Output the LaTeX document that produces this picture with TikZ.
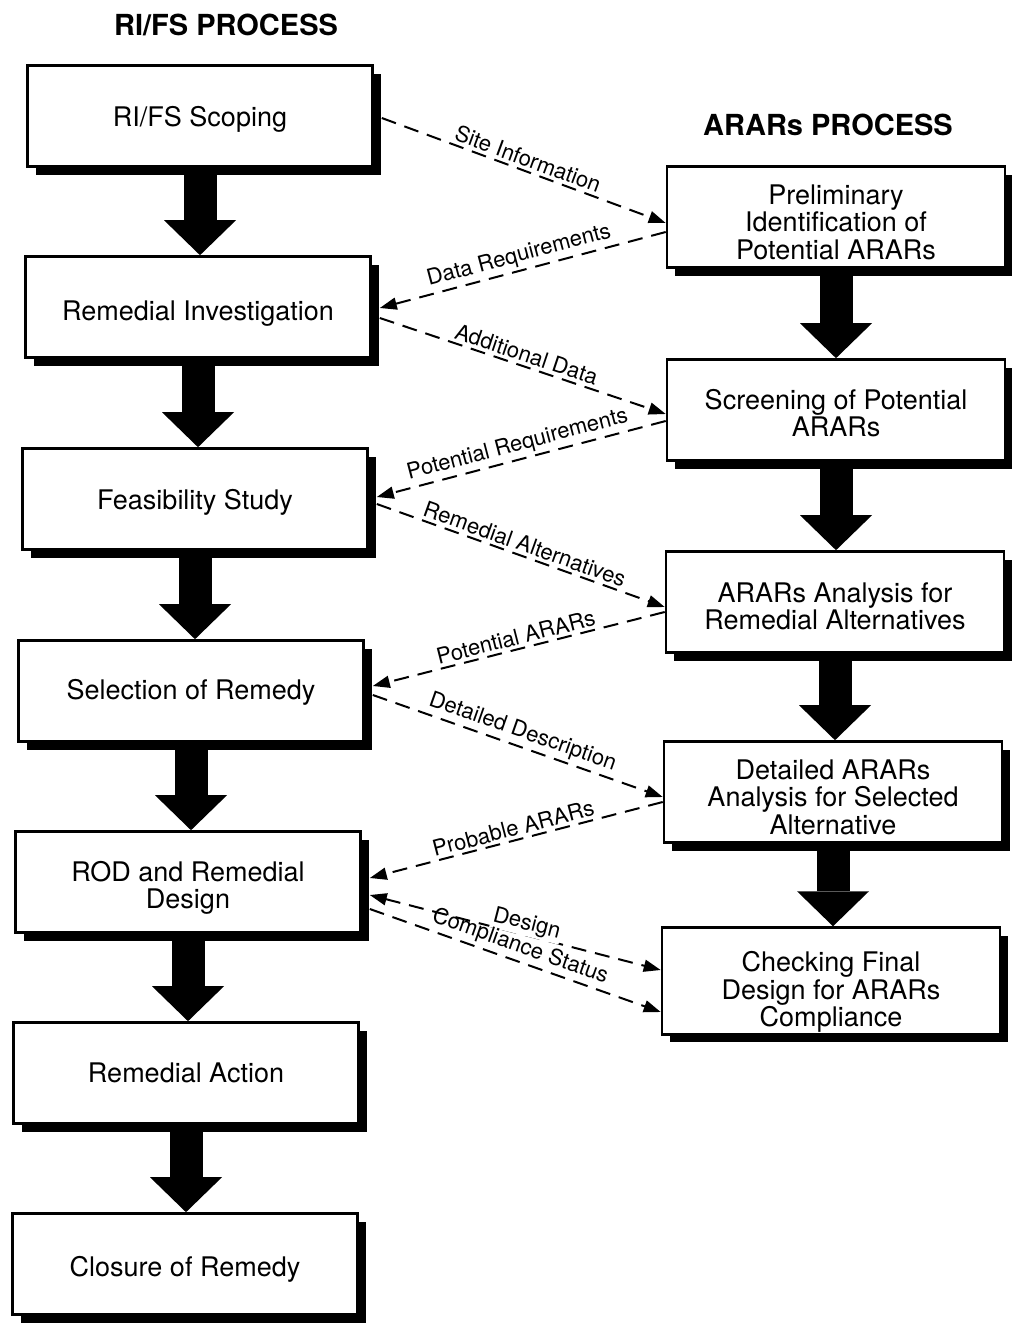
\documentclass[tikz,border=0pt]{standalone}
\usepackage{fontspec}
\setmainfont{TeX Gyre Heros}
\usetikzlibrary{arrows.meta,shadows}

% taller strut on a first line pushes the text block down a little
\newcommand\lowerby[1]{\rule{0pt}{#1pt}}

\begin{document}
\begin{tikzpicture}[x=1pt,y=-1pt,
  >={Triangle[length=17pt,width=12pt]},
  box/.style={draw=black, line width=2.6pt, fill=white,
    minimum width=345pt, minimum height=101pt, inner sep=2pt,
    align=center, font=\fontsize{27}{27.5}\selectfont,
    general shadow={fill=black, shadow xshift=8pt, shadow yshift=-8pt}},
  rbox/.style={box, minimum width=338pt},
  flow/.style={line width=33pt,
    -{Triangle[width=72pt,length=35pt,line width=0pt]}},
  link/.style={line width=2pt, dash pattern=on 15pt off 9pt},
  lbl/.style={font=\fontsize{22}{23}\selectfont, sloped, above, inner sep=3pt},
  head/.style={font=\bfseries\fontsize{29}{31}\selectfont}
]
\useasboundingbox (0,0) rectangle (1012,1328);

% column headings
\node[head] (h1) at (226,25) {RI/FS PROCESS};
\node[head] (h2) at (828,125) {ARARs PROCESS};

% RI/FS process column
\node[box] (L1) at (200,116) {\lowerby{26}RI/FS Scoping};
\node[box] (L2) at (198,307) {\lowerby{32}Remedial Investigation};
\node[box] (L3) at (195,499) {\lowerby{26}Feasibility Study};
\node[box] (L4) at (191,691) {\lowerby{22}Selection of Remedy};
\node[box] (L5) at (188,882) {\lowerby{32}ROD and Remedial\\Design};
\node[box] (L6) at (186,1073) {Remedial Action};
\node[box] (L7) at (185,1264) {\lowerby{30}Closure of Remedy};

% ARARs process column
\node[rbox] (R1) at (836,217) {\lowerby{30}Preliminary\\Identification of\\Potential ARARs};
\node[rbox] (R2) at (836,410) {\lowerby{26}Screening of Potential\\ARARs};
\node[rbox] (R3) at (835,602) {\lowerby{28}ARARs Analysis for\\Remedial Alternatives};
\node[rbox] (R4) at (833,792) {\lowerby{30}Detailed ARARs\\Analysis for Selected\\Alternative};
\node[rbox] (R5) at (831,981) {\lowerby{42}Checking Final\\Design for ARARs\\Compliance};

% heavy flow arrows
\foreach \a/\b in {L1/L2,L2/L3,L3/L4,L4/L5,L5/L6,L6/L7,R1/R2,R2/R3,R3/R4,R4/R5}
  \draw[flow] (\a.south) -- (\a.south |- \b.north);

% information exchanged between the two processes
\draw[link,->] ([shift={(8,2)}]L1.east) -- ([shift={(0,6)}]R1.west)
  node[lbl, midway] {Site Information};
\draw[link,->] ([shift={(0,15)}]R1.west) -- ([shift={(8,1)}]L2.east)
  node[lbl, midway] {Data Requirements};
\draw[link,->] ([shift={(8,11)}]L2.east) -- ([shift={(0,4)}]R2.west)
  node[lbl, midway] {Additional Data};
\draw[link,->] ([shift={(0,11)}]R2.west) -- ([shift={(8,-2)}]L3.east)
  node[lbl, midway] {Potential Requirements};
\draw[link,->] ([shift={(8,5)}]L3.east) -- ([shift={(0,5)}]R3.west)
  node[lbl, midway] {Remedial Alternatives};
\draw[link,->] ([shift={(0,10)}]R3.west) -- ([shift={(8,-5)}]L4.east)
  node[lbl, midway] {Potential ARARs};
\draw[link,->] ([shift={(8,4)}]L4.east) -- ([shift={(0,5)}]R4.west)
  node[lbl, midway] {Detailed Description};
\draw[link,->] ([shift={(0,10)}]R4.west) -- ([shift={(8,-4)}]L5.east)
  node[lbl, midway] {Probable ARARs};
\draw[link,<->] ([shift={(8,13)}]L5.east) -- ([shift={(0,-11)}]R5.west)
  node[pos=0.53, sloped, yshift=11pt, fill=white, inner sep=1.5pt,
       font=\fontsize{22}{23}\selectfont] {Design};
\draw[link,->] ([shift={(8,27)}]L5.east) -- ([shift={(0,31)}]R5.west)
  node[lbl, midway] {Compliance Status};
\end{tikzpicture}
\end{document}
